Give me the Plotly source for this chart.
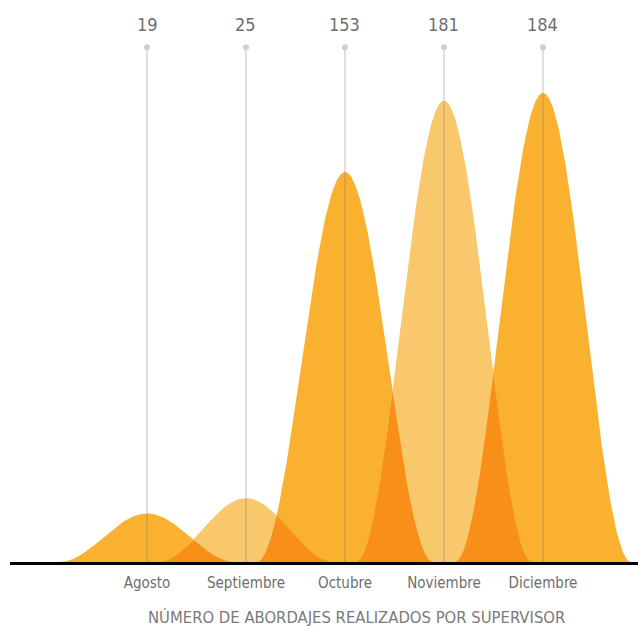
import numpy as np
import plotly.graph_objects as go

# Monthly totals
months = ["Agosto", "Septiembre", "Octubre", "Noviembre", "Diciembre"]
values = [19, 25, 153, 181, 184]

axis_title = "NÚMERO DE ABORDAJES REALIZADOS POR SUPERVISOR"

FONT = "DejaVu Sans Condensed, Liberation Sans Narrow, Roboto, sans-serif"
C_MAIN = "#F9B12F"
C_LIGHT = "#FAC86C"
C_OVER = "#F78F19"
fills = [C_MAIN, C_LIGHT, C_MAIN, C_LIGHT, C_MAIN]

HALF = 0.89        # half-width of each bell, in category units
Y_TOP = 220.5      # top of the value axis
STEM_TOP = 202     # where the guide stems end


def bell(center, height, xs):
    d = np.clip(np.abs(xs - center) / HALF, 0, 1)
    return height * 0.5 * (1 + np.cos(np.pi * d))


fig = go.Figure()

# one raised-cosine bell per month
for i, (m, v) in enumerate(zip(months, values)):
    xs = np.linspace(i - HALF, i + HALF, 241)
    ys = bell(i, v, xs)
    fig.add_trace(go.Scatter(
        x=np.concatenate([xs, [xs[-1], xs[0]]]),
        y=np.concatenate([ys, [0, 0]]),
        fill="toself", fillcolor=fills[i], mode="lines",
        line=dict(width=0), hoverinfo="skip", showlegend=False, name=m))

# overlap between neighbouring months
for i in range(len(values) - 1):
    lo, hi = i + 1 - HALF, i + HALF
    if hi <= lo:
        continue
    xs = np.linspace(lo, hi, 241)
    ys = np.minimum(bell(i, values[i], xs), bell(i + 1, values[i + 1], xs))
    fig.add_trace(go.Scatter(
        x=np.concatenate([xs, [xs[-1], xs[0]]]),
        y=np.concatenate([ys, [0, 0]]),
        fill="toself", fillcolor=C_OVER, mode="lines",
        line=dict(width=0), hoverinfo="skip", showlegend=False))

# guide stems with value labels
idx = list(range(len(months)))
for i in idx:
    fig.add_trace(go.Scatter(
        x=[i, i], y=[0, STEM_TOP], mode="lines",
        line=dict(color="rgba(120,120,120,0.32)", width=1.5),
        hoverinfo="skip", showlegend=False))
fig.add_trace(go.Scatter(
    x=idx, y=[STEM_TOP] * len(idx), mode="markers",
    marker=dict(color="#CFCFCF", size=6),
    hoverinfo="skip", showlegend=False, cliponaxis=False))

annotations = [dict(
    text=str(v), x=i, y=STEM_TOP, xref="x", yref="y", yshift=23,
    yanchor="middle", showarrow=False,
    font=dict(family=FONT, size=18, color="#6E6E6E"))
    for i, v in zip(idx, values)]
annotations.append(dict(
    text=axis_title, xref="paper", yref="paper", x=0.5525, y=0,
    yshift=-55, yanchor="middle", showarrow=False,
    font=dict(family=FONT, size=16.5, color="#7A7A7A")))

fig.update_layout(
    width=638, height=628,
    margin=dict(l=10, r=0, t=0, b=66),
    paper_bgcolor="white", plot_bgcolor="white",
    font=dict(family=FONT, color="#6E6E6E"),
    xaxis=dict(
        range=[-1.384, 4.96], tickmode="array", tickvals=idx, ticktext=months,
        showgrid=False, zeroline=False, showline=True, linecolor="black",
        linewidth=2.5, ticks="outside", ticklen=5, tickcolor="rgba(0,0,0,0)",
        tickfont=dict(family=FONT, size=15, color="#6E6E6E")),
    yaxis=dict(range=[0, Y_TOP], visible=False, fixedrange=True),
    annotations=annotations,
)

fig.write_html("out.html")
